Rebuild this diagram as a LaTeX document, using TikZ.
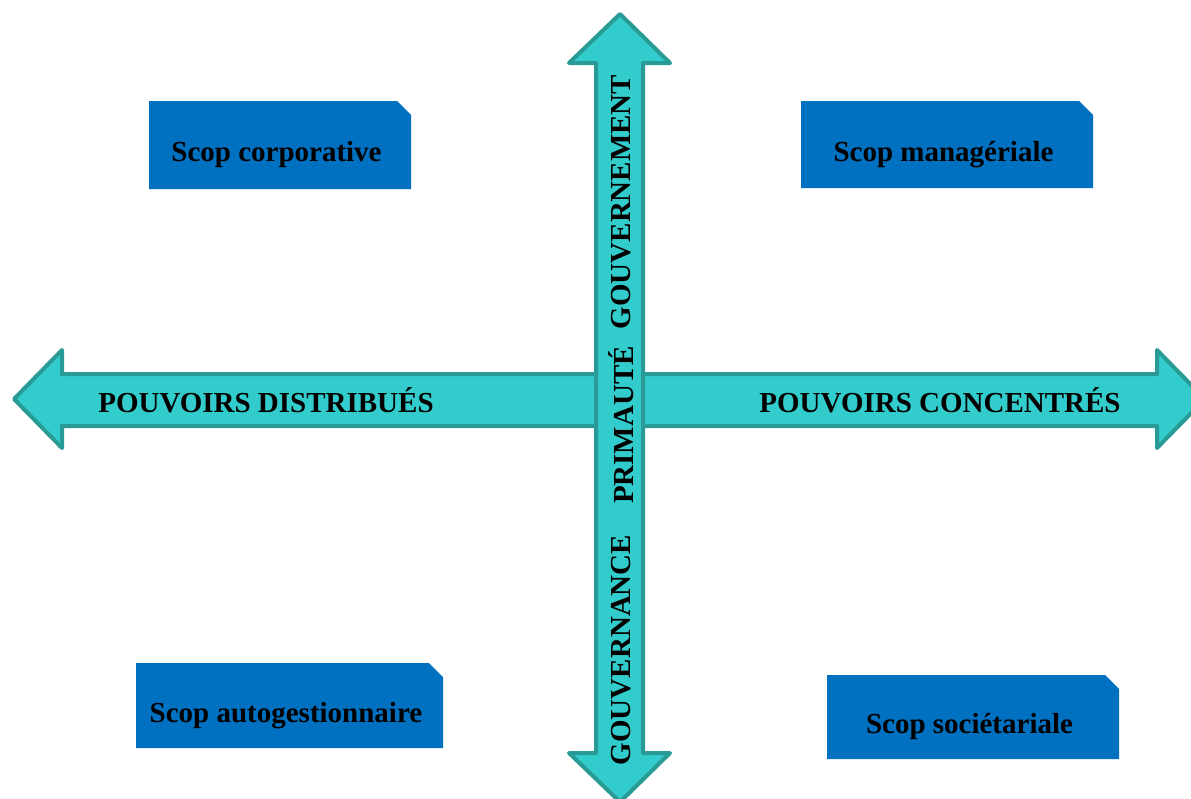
\documentclass[tikz,border=0pt]{standalone}
\usepackage{fontspec}
\setmainfont{Liberation Serif}
\usetikzlibrary{shapes.misc}
\definecolor{boxblue}{HTML}{0070C0}
\definecolor{axisfill}{HTML}{33CCCC}
\definecolor{axisline}{HTML}{2A9A96}

\begin{document}
\begin{tikzpicture}[x=1pt,y=-1pt,
    scop/.style={chamfered rectangle,chamfered rectangle corners=north east,
      chamfered rectangle xsep=7pt,chamfered rectangle ysep=7pt,
      fill=boxblue,draw=none,inner sep=0pt,text height=33pt,text depth=0pt,
      execute at begin node={\hspace*{-7pt}},
      font=\fontsize{29}{32}\selectfont\bfseries},
    axis/.style={fill=axisfill,draw=axisline,line width=4pt,line join=round},
    axislabel/.style={font=\fontsize{29}{32}\selectfont\bfseries,inner sep=0pt}]
    \useasboundingbox (0,0) rectangle (1191,798);
    % horizontal axis
    \path[axis] (14,399) -- (62,350) -- (62,374) -- (1157,374) -- (1157,350)
      -- (1205,399) -- (1157,448) -- (1157,426) -- (62,426) -- (62,448) -- cycle;
    % vertical axis
    \path[axis] (620,14) -- (670,63) -- (643,63) -- (643,753) -- (670,753)
      -- (620,802) -- (569,753) -- (596,753) -- (596,63) -- (569,63) -- cycle;
    \node[axislabel] (dist) at (266,400) {POUVOIRS DISTRIBUÉS};
    \node[axislabel] (conc) at (940,400) {POUVOIRS CONCENTRÉS};
    \node[axislabel,rotate=90] (gouvnce) at (621,650) {GOUVERNANCE};
    \node[axislabel,rotate=90] (prim) at (621,425) {PRIMAUTÉ};
    \node[axislabel,rotate=90] (gouvmt) at (621,202) {GOUVERNEMENT};
    % quadrants
    \node[scop,minimum width=262pt,minimum height=88pt] (corp) at (280,145) {Scop corporative};
    \node[scop,minimum width=292pt,minimum height=87pt] (mana) at (947,144.5) {Scop managériale};
    \node[scop,minimum width=307pt,minimum height=85pt] (auto) at (289.5,705.5) {Scop autogestionnaire};
    \node[scop,minimum width=292pt,minimum height=84pt] (soci) at (973,717) {Scop sociétariale};
\end{tikzpicture}
\end{document}
